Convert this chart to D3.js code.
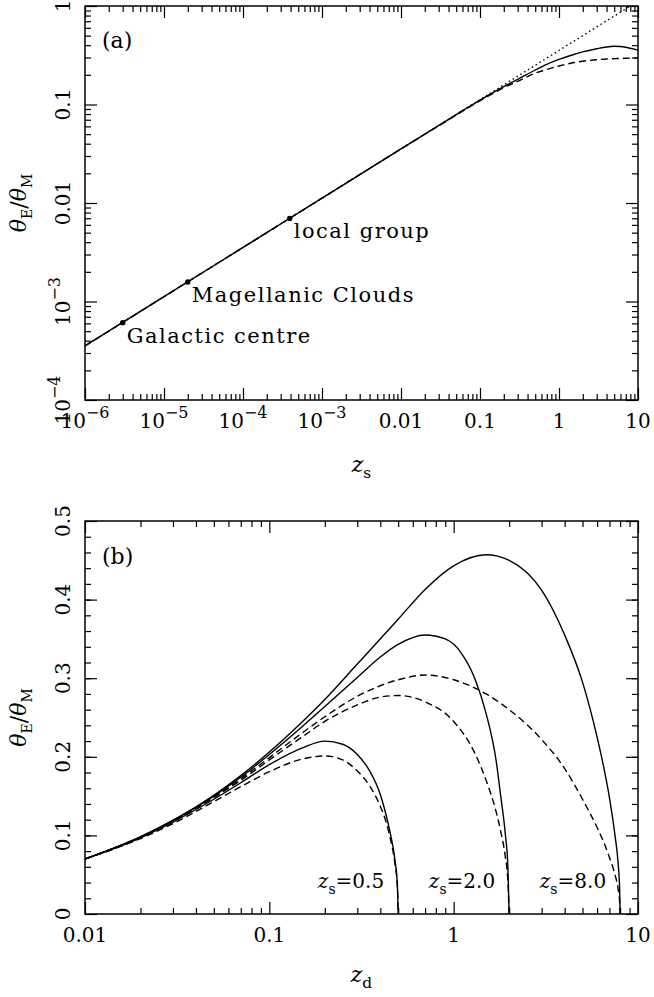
<!DOCTYPE html>
<html lang="en">
<head>
<meta charset="utf-8">
<title>Einstein angle</title>
<script src="https://d3js.org/d3.v7.min.js"></script>
<style>
  body { margin: 0; background: #fff; }
  text { font-family: "DejaVu Serif", serif; fill: #000; }
</style>
</head>
<body>
<script>
// ---- panel (a): theta_E/theta_M against z_s ----
var aDottedZ  = [1e-6, 8];
var aDottedTh = [3.54e-4, 1.0];

var aSolidZ  = [1e-6, 1e-5, 1e-4, 1e-3, 0.01, 0.05, 0.1, 0.2, 0.3, 0.5, 0.7, 1, 1.5, 2, 3, 4, 5, 6, 7, 8, 10];
var aSolidTh = [3.54e-4, 1.12e-3, 3.54e-3, 0.0112, 0.0354, 0.079, 0.111, 0.152, 0.180, 0.224, 0.256, 0.287, 0.320, 0.342, 0.368, 0.384, 0.390, 0.388, 0.381, 0.372, 0.357];

var aDashedZ  = [1e-6, 1e-5, 1e-4, 1e-3, 0.01, 0.05, 0.1, 0.2, 0.3, 0.5, 0.7, 1, 1.5, 2, 3, 4, 5, 7, 10];
var aDashedTh = [3.54e-4, 1.12e-3, 3.54e-3, 0.0112, 0.0354, 0.078, 0.109, 0.148, 0.172, 0.208, 0.227, 0.246, 0.265, 0.275, 0.285, 0.290, 0.292, 0.295, 0.296];

var objNames = ["Galactic centre", "Magellanic Clouds", "local group"];
var objZ     = [3.0e-6, 2.0e-5, 3.9e-4];
var objTh    = [6.1e-4, 1.58e-3, 6.98e-3];

var aXTicks  = [1e-6, 1e-5, 1e-4, 1e-3, 0.01, 0.1, 1, 10];
var aXLabels = ["10^−6", "10^−5", "10^−4", "10^−3", "0.01", "0.1", "1", "10"];
var aYTicks  = [1e-4, 1e-3, 0.01, 0.1, 1];
var aYLabels = ["10^−4", "10^−3", "0.01", "0.1", "1"];

// ---- panel (b): theta_E/theta_M against z_d for three sources ----
var sourceZ = [0.5, 2.0, 8.0];

var zd05     = [0.01, 0.02, 0.03, 0.05, 0.07, 0.1, 0.15, 0.2, 0.25, 0.3, 0.35, 0.4, 0.43, 0.45, 0.48, 0.495, 0.5];
var solid05  = [0.070, 0.097, 0.117, 0.146, 0.167, 0.190, 0.211, 0.220, 0.216, 0.203, 0.182, 0.152, 0.126, 0.106, 0.069, 0.037, 0];
var dashed05 = [0.070, 0.096, 0.115, 0.143, 0.162, 0.181, 0.197, 0.201, 0.196, 0.182, 0.163, 0.137, 0.117, 0.099, 0.064, 0.034, 0];

var zd2S    = [0.01, 0.02, 0.03, 0.05, 0.07, 0.1, 0.15, 0.2, 0.3, 0.4, 0.5, 0.7, 0.9, 1.1, 1.3, 1.5, 1.7, 1.8, 1.9, 1.97, 2.0];
var solid2  = [0.070, 0.098, 0.119, 0.150, 0.174, 0.203, 0.238, 0.264, 0.301, 0.327, 0.343, 0.355, 0.350, 0.332, 0.300, 0.255, 0.195, 0.150, 0.105, 0.058, 0];
var zd2D    = [0.01, 0.02, 0.03, 0.05, 0.07, 0.1, 0.15, 0.2, 0.3, 0.4, 0.5, 0.7, 1.0, 1.3, 1.5, 1.7, 1.8, 1.9, 1.97, 2.0];
var dashed2 = [0.070, 0.097, 0.118, 0.148, 0.170, 0.196, 0.225, 0.245, 0.266, 0.276, 0.278, 0.270, 0.245, 0.205, 0.170, 0.130, 0.105, 0.075, 0.040, 0];

var zd8     = [0.01, 0.02, 0.03, 0.05, 0.07, 0.1, 0.15, 0.2, 0.3, 0.5, 0.7, 1.0, 1.5, 2.0, 3.0, 4.0, 5.0, 6.0, 6.5, 7.0, 7.5, 7.8, 7.95, 8.0];
var solid8  = [0.070, 0.098, 0.119, 0.151, 0.176, 0.206, 0.244, 0.273, 0.318, 0.375, 0.413, 0.443, 0.457, 0.450, 0.412, 0.355, 0.295, 0.225, 0.188, 0.148, 0.100, 0.065, 0.032, 0];
var dashed8 = [0.070, 0.098, 0.118, 0.149, 0.172, 0.199, 0.230, 0.251, 0.277, 0.298, 0.304, 0.298, 0.280, 0.260, 0.222, 0.185, 0.146, 0.110, 0.092, 0.072, 0.050, 0.032, 0.016, 0];

var bXTicks  = [0.01, 0.1, 1, 10];
var bXLabels = ["0.01", "0.1", "1", "10"];
var bYTicks  = [0, 0.1, 0.2, 0.3, 0.4, 0.5];
var bYLabels = ["0", "0.1", "0.2", "0.3", "0.4", "0.5"];

// ---- layout ----
var w = 654, h = 997;
var left = 85, right = 638;
var aTop = 6, aBot = 400;
var bTop = 521, bBot = 914;

var svg = d3.select("body").append("svg")
    .attr("width", w).attr("height", h);

var xA = d3.scaleLog().domain([1e-6, 10]).range([left, right]);
var yA = d3.scaleLog().domain([1e-4, 1]).range([aBot, aTop]);
var xB = d3.scaleLog().domain([0.01, 10]).range([left, right]);
var yB = d3.scaleLinear().domain([0, 0.5]).range([bBot, bTop]);

// minor ticks of a log axis: 2..9 times every decade inside the domain
function logMinor(scale) {
  var d = scale.domain(), out = [];
  for (var e = Math.floor(Math.log10(d[0])); e < Math.log10(d[1]); e++) {
    for (var k = 2; k <= 9; k++) {
      var v = k * Math.pow(10, e);
      if (v > d[0] && v < d[1]) out.push(v);
    }
  }
  return out;
}

function tickSet(g, axisFn, scale, values, len) {
  g.call(axisFn(scale).tickValues(values).tickSize(len).tickSizeOuter(0).tickFormat(""));
  g.select(".domain").remove();
  g.selectAll(".tick line").attr("stroke", "#000").attr("stroke-width", 1.2);
}

function frame(x, y, top, bot, xMaj, xMin, yMaj, yMin) {
  var g = svg.append("g");
  [[xMaj, 12], [xMin, 6]].forEach(function(t) {
    tickSet(g.append("g").attr("transform", "translate(0," + bot + ")"), d3.axisBottom, x, t[0], -t[1]);
    tickSet(g.append("g").attr("transform", "translate(0," + top + ")"), d3.axisTop, x, t[0], -t[1]);
  });
  [[yMaj, 12], [yMin, 6]].forEach(function(t) {
    tickSet(g.append("g").attr("transform", "translate(" + left + ",0)"), d3.axisLeft, y, t[0], -t[1]);
    tickSet(g.append("g").attr("transform", "translate(" + right + ",0)"), d3.axisRight, y, t[0], -t[1]);
  });
  g.append("rect")
    .attr("x", left).attr("y", top)
    .attr("width", right - left).attr("height", bot - top)
    .attr("fill", "none").attr("stroke", "#000").attr("stroke-width", 1.5);
}

// label text "10^−6" -> base plus raised exponent
function fillLabel(t, s) {
  var p = s.split("^");
  t.append("tspan").text(p[0]);
  if (p.length > 1) t.append("tspan").attr("dy", -10).attr("font-size", 16).text(p[1]);
}

function xLabels(x, vals, labs, baseline) {
  vals.forEach(function(v, i) {
    var t = svg.append("text").attr("x", x(v)).attr("y", baseline)
      .attr("text-anchor", "middle").attr("font-size", 20);
    fillLabel(t, labs[i]);
  });
}

function yLabels(y, vals, labs) {
  vals.forEach(function(v, i) {
    var t = svg.append("text")
      .attr("transform", "translate(70," + y(v) + ") rotate(-90)")
      .attr("text-anchor", "middle").attr("font-size", 20);
    fillLabel(t, labs[i]);
  });
}

function yTitle(cy) {
  var t = svg.append("text")
    .attr("transform", "translate(26," + cy + ") rotate(-90)")
    .attr("text-anchor", "middle").attr("font-size", 22);
  t.append("tspan").attr("font-style", "italic").text("θ");
  t.append("tspan").attr("font-size", 14).attr("dy", 6).text("E");
  t.append("tspan").attr("dy", -6).text("/");
  t.append("tspan").attr("font-style", "italic").text("θ");
  t.append("tspan").attr("font-size", 14).attr("dy", 6).text("M");
}

function zTitle(x, y, sub, size, anchor, rest) {
  var t = svg.append("text").attr("x", x).attr("y", y)
    .attr("text-anchor", anchor).attr("font-size", size);
  t.append("tspan").attr("font-style", "italic").text("z");
  t.append("tspan").attr("font-size", size * 0.7).attr("dy", 6).text(sub);
  if (rest) t.append("tspan").attr("dy", -6).text(rest);
}

function curve(x, y, xs, ys, dash) {
  var pts = xs.map(function(v, i) { return [v, ys[i]]; });
  var line = d3.line()
    .x(function(d) { return x(d[0]); })
    .y(function(d) { return y(d[1]); })
    .curve(d3.curveMonotoneX);
  svg.append("path").datum(pts)
    .attr("d", line)
    .attr("fill", "none").attr("stroke", "#000")
    .attr("stroke-width", dash === "dot" ? 1.4 : 1.4)
    .attr("stroke-dasharray", dash === "dash" ? "7,4" : dash === "dot" ? "1.5,3" : null);
}

// ---- draw panel (a) ----
frame(xA, yA, aTop, aBot, aXTicks, logMinor(xA), aYTicks, logMinor(yA));
curve(xA, yA, aDottedZ, aDottedTh, "dot");
curve(xA, yA, aDashedZ, aDashedTh, "dash");
curve(xA, yA, aSolidZ, aSolidTh, null);

svg.selectAll(".obj").data(objNames).enter().append("circle")
  .attr("cx", function(d, i) { return xA(objZ[i]); })
  .attr("cy", function(d, i) { return yA(objTh[i]); })
  .attr("r", 2.7).attr("fill", "#000");
svg.selectAll(".objlab").data(objNames).enter().append("text")
  .attr("x", function(d, i) { return xA(objZ[i]) + 4; })
  .attr("y", function(d, i) { return yA(objTh[i]) + 20; })
  .attr("font-size", 21)
  .attr("letter-spacing", 1.5)
  .text(function(d) { return d; });

svg.append("text").attr("x", 102).attr("y", 48).attr("font-size", 22).text("(a)");
xLabels(xA, aXTicks, aXLabels, 428);
yLabels(yA, aYTicks, aYLabels);
yTitle((aTop + aBot) / 2);
zTitle((left + right) / 2, 472, "s", 22, "middle");

// ---- draw panel (b) ----
frame(xB, yB, bTop, bBot, bXTicks, logMinor(xB), bYTicks, d3.range(0.02, 0.5, 0.02));
curve(xB, yB, zd05, dashed05, "dash");
curve(xB, yB, zd2D, dashed2, "dash");
curve(xB, yB, zd8, dashed8, "dash");
curve(xB, yB, zd05, solid05, null);
curve(xB, yB, zd2S, solid2, null);
curve(xB, yB, zd8, solid8, null);

sourceZ.forEach(function(z) {
  zTitle(xB(z) - 14, 888, "s", 20, "end", "=" + z.toFixed(1));
});

svg.append("text").attr("x", 102).attr("y", 564).attr("font-size", 22).text("(b)");
xLabels(xB, bXTicks, bXLabels, 942);
yLabels(yB, bYTicks, bYLabels);
yTitle((bTop + bBot) / 2);
zTitle((left + right) / 2, 982, "d", 22, "middle");
</script>
</body>
</html>
